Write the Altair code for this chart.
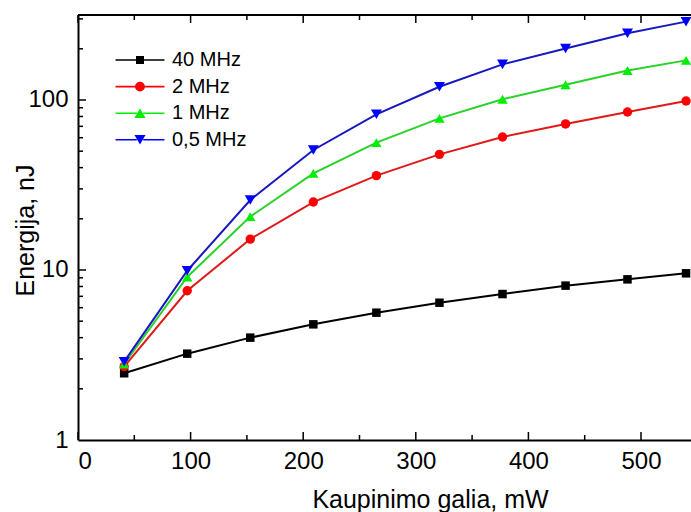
import altair as alt
import pandas as pd

# ---- data ----
power_mw = [41, 97, 153, 209, 265, 321, 377, 433, 488, 540]
e_40mhz = [2.47, 3.22, 4.0, 4.79, 5.61, 6.42, 7.22, 8.09, 8.81, 9.56]
e_2mhz = [2.7, 7.55, 15.2, 25.1, 35.9, 47.9, 60.6, 72.3, 85.0, 98.7]
e_1mhz = [2.8, 9.1, 20.6, 37.0, 56.1, 78.0, 101.0, 123.0, 149.0, 171.0]
e_05mhz = [2.89, 9.9, 25.8, 50.8, 82.4, 119.7, 162.0, 201.0, 247.0, 289.0]

series_labels = ["40 MHz", "2 MHz", "1 MHz", "0,5 MHz"]
series_values = [e_40mhz, e_2mhz, e_1mhz, e_05mhz]

x_label_values = [0, 100, 200, 300, 400, 500]
x_major_ticks = [0, 100, 200, 300, 400, 500]
x_minor_ticks = [50, 150, 250, 350, 450]
y_label_values = [1, 10, 100]
y_major_ticks = [10, 100]
y_minor_ticks = [2, 3, 4, 5, 6, 7, 8, 9, 20, 30, 40, 50, 60, 70, 80, 90, 200, 300]

# ---- styles ----
line_colors = ["#000000", "#e01818", "#28d228", "#1818c0"]
marker_colors = ["#000000", "#ff0000", "#00ee00", "#0000ff"]
marker_shapes = ["square", "circle", "triangle-up", "triangle-down"]
marker_sizes = [72, 121, 144, 144]
legend_paths = [
    "M-3.06,-0.1H-0.4V0.1H-3.06Z M0.4,-0.1H3.06V0.1H0.4Z M-0.5,-0.5H0.5V0.5H-0.5Z",
    "M-3.06,-0.1H-0.55V0.1H-3.06Z M0.55,-0.1H3.06V0.1H0.55Z M0.62,0A0.62,0.62,0,1,1,-0.62,0A0.62,0.62,0,1,1,0.62,0Z",
    "M-3.06,-0.1H-0.4V0.1H-3.06Z M0.4,-0.1H3.06V0.1H0.4Z M0,-0.6L0.69,0.6H-0.69Z",
    "M-3.06,-0.1H-0.4V0.1H-3.06Z M0.4,-0.1H3.06V0.1H0.4Z M-0.69,-0.6H0.69L0,0.6Z",
]

FONT = "Liberation Sans"
W, H = 613, 425

rows = []
for lab, vals in zip(series_labels, series_values):
    for xv, yv in zip(power_mw, vals):
        rows.append({"series": lab, "power": xv, "energy": yv})
df = pd.DataFrame(rows)

xscale = alt.Scale(domain=[0, 544.4], nice=False, zero=False)
yscale = alt.Scale(type="log", domain=[1, 316.2], nice=False)

x_axis = alt.Axis(
    values=x_label_values, ticks=False, tickSize=0, grid=False,
    domainColor="black", domainWidth=2,
    labelFont=FONT, labelFontSize=24, labelColor="black", labelPadding=9,
    title="Kaupinimo galia, mW", titleFont=FONT, titleFontSize=25,
    titleFontWeight="normal", titleColor="black",
    titleX=352, titleY=67, titleBaseline="alphabetic", titleAlign="center",
)
y_axis = alt.Axis(
    values=y_label_values, format="d", ticks=False, tickSize=0, grid=False,
    domainColor="black", domainWidth=2,
    labelFont=FONT, labelFontSize=24, labelColor="black", labelPadding=10,
    title="Energija, nJ", titleFont=FONT, titleFontSize=25,
    titleFontWeight="normal", titleColor="black",
    titleX=-45, titleY=215, titleBaseline="alphabetic", titleAlign="center",
    titleAngle=270,
)

X = alt.X("power:Q", scale=xscale, axis=x_axis)
Y = alt.Y("energy:Q", scale=yscale, axis=y_axis)

base = alt.Chart(df)

lines = base.mark_line(strokeWidth=2).encode(
    x=X, y=Y,
    color=alt.Color("series:N", scale=alt.Scale(domain=series_labels, range=line_colors), legend=None),
    order="power:Q",
)

points = base.mark_point(filled=True, opacity=1).encode(
    x=X, y=Y,
    color=alt.Color("series:N", scale=alt.Scale(domain=series_labels, range=marker_colors), legend=None),
    shape=alt.Shape("series:N", scale=alt.Scale(domain=series_labels, range=marker_shapes), legend=None),
    size=alt.Size("series:N", scale=alt.Scale(domain=series_labels, range=marker_sizes), legend=None),
)

leg = alt.Legend(
    orient="none", legendX=52, legendY=35, padding=0,
    symbolSize=256, symbolStrokeWidth=0, labelOffset=22,
    labelFont=FONT, labelFontSize=20, labelColor="black", rowPadding=6.6,
)
legend_layer = base.transform_filter("false").mark_point(filled=True, opacity=1).encode(
    x=X, y=Y,
    color=alt.Color("series:N", scale=alt.Scale(domain=series_labels, range=marker_colors), legend=leg, title=None),
    shape=alt.Shape("series:N", scale=alt.Scale(domain=series_labels, range=legend_paths), legend=leg, title=None),
)

def xticks(vals, length, top):
    d = pd.DataFrame({"power": vals})
    if top:
        yy, yy2 = alt.value(0), alt.value(length)
    else:
        yy, yy2 = alt.value(H), alt.value(H - length)
    return alt.Chart(d).mark_rule(color="black", strokeWidth=1.5).encode(
        x=alt.X("power:Q", scale=xscale, axis=x_axis), y=yy, y2=yy2
    )

def yticks(vals, length):
    d = pd.DataFrame({"energy": vals})
    return alt.Chart(d).mark_rule(color="black", strokeWidth=1.5).encode(
        y=alt.Y("energy:Q", scale=yscale, axis=y_axis), x=alt.value(0), x2=alt.value(length)
    )

border = alt.Chart(pd.DataFrame({"power": [0]})).mark_rule(color="black", strokeWidth=2).encode(
    x=alt.value(0), x2=alt.value(W), y=alt.value(0)
)

chart = alt.layer(
    lines, points, legend_layer,
    xticks(x_major_ticks, 8, False), xticks(x_minor_ticks, 5, False),
    xticks(x_major_ticks, 8, True), xticks(x_minor_ticks, 5, True),
    yticks(y_major_ticks, 8), yticks(y_minor_ticks, 5),
    border,
).resolve_scale(
    color="independent", shape="independent"
).properties(
    width=W, height=H,
    autosize=alt.AutoSizeParams(type="none"),
    padding={"left": 78, "top": 15, "right": 0, "bottom": 72},
    background="white",
).configure_view(stroke=None)

chart.save("out.html", embed_options={"renderer": "svg", "actions": False})
